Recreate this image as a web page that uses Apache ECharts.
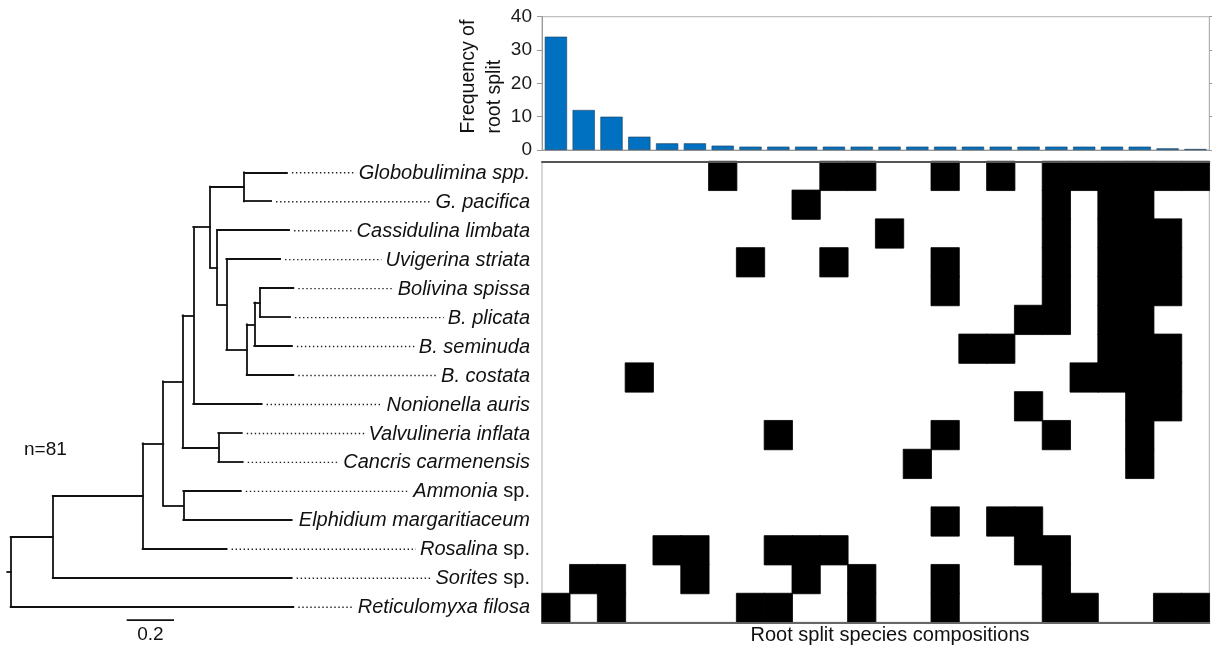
<!DOCTYPE html>
<html><head><meta charset="utf-8">
<script src="https://cdn.jsdelivr.net/npm/echarts@6/dist/echarts.min.js"></script>
<style>html,body{margin:0;padding:0;background:#fff}#c{width:1212px;height:650px}</style>
</head><body><div id="c"></div>
<script>
// ---------- data ----------
const compositions = Array.from({length: 24}, (_, i) => 'S' + (i + 1));
const rootSplitFrequency = [34, 12, 10, 4, 2, 2, 1.3, 1, 1, 1, 1, 1, 1, 1, 1, 1, 1, 1, 1, 1, 1, 1, 0.5, 0.3];
const freqTicks = [0, 10, 20, 30, 40];

// taxon labels: [italic part, upright part]
const taxa = [
  ['Globobulimina spp.', ''],
  ['G. pacifica', ''],
  ['Cassidulina limbata', ''],
  ['Uvigerina striata', ''],
  ['Bolivina spissa', ''],
  ['B. plicata', ''],
  ['B. seminuda', ''],
  ['B. costata', ''],
  ['Nonionella auris', ''],
  ['Valvulineria inflata', ''],
  ['Cancris carmenensis', ''],
  ['Ammonia', ' sp.'],
  ['Elphidium margaritiaceum', ''],
  ['Rosalina', ' sp.'],
  ['Sorites', ' sp.'],
  ['Reticulomyxa filosa', '']
];
// depth (branch-length units from root) of each tip
const tipDepth = [1.168, 1.101, 1.177, 1.139, 1.195, 1.181, 1.189, 1.195, 1.061, 0.977, 0.981, 0.973, 1.188, 0.913, 1.188, 1.195];
// internal nodes (index 16+k), children given by index, bottom-up
const nodeChildren = [[4,5],[16,6],[17,7],[3,18],[2,19],[0,1],[21,20],[22,8],[9,10],[23,24],[11,12],[25,26],[27,13],[28,14],[29,15]];
const nodeDepth = [1.054, 1.030, 0.998, 0.912, 0.873, 0.986, 0.843, 0.772, 0.878, 0.727, 0.730, 0.645, 0.558, 0.178, 0];
const rootStem = 0.0144;
const scaleBarLength = 0.2;
const sampleLabel = 'n=81';

// black cells (column indices) for each taxon row
const blackCells = [
  [6,10,11,14,16,18,19,20,21,22,23],
  [9,18,20,21],
  [12,18,20,21,22],
  [7,10,14,18,20,21,22],
  [14,18,20,21,22],
  [17,18,20,21],
  [15,16,20,21,22],
  [3,19,20,21,22],
  [17,21,22],
  [8,14,18,21],
  [13,21],
  [],
  [14,16,17],
  [4,5,8,9,10,17,18],
  [1,2,5,9,11,14,18],
  [0,2,7,8,11,14,18,19,22,23]
];

// ---------- build ----------
const FONT = 'Liberation Sans, Arial, Helvetica, sans-serif';
const heatData = [];
blackCells.forEach((cols, r) => cols.forEach(c => heatData.push([c, r, 1])));

// tree layout: tips at their row, internal nodes at mean of children
const depthOf = i => i < taxa.length ? tipDepth[i] : nodeDepth[i - taxa.length];
const yOf = taxa.map((t, i) => i);
nodeChildren.forEach(ch => yOf.push((yOf[ch[0]] + yOf[ch[1]]) / 2));
const segs = [];
nodeChildren.forEach((ch, k) => {
  const d = nodeDepth[k];
  segs.push({coords: [[d, yOf[ch[0]]], [d, yOf[ch[1]]]]});
  ch.forEach(c => segs.push({coords: [[d, yOf[c]], [depthOf(c), yOf[c]]]}));
});
const rootIdx = taxa.length + nodeChildren.length - 1;
segs.push({coords: [[-rootStem, yOf[rootIdx]], [0, yOf[rootIdx]]]});

const mctx = document.createElement('canvas').getContext('2d');
function textW(s, italic) {
  mctx.font = (italic ? 'italic ' : '') + '20px ' + FONT;
  return mctx.measureText(s).width;
}
const LABEL_RIGHT = 530;

const chart = echarts.init(document.getElementById('c'), null, {renderer: 'canvas'});
const option = {
  animation: false,
  backgroundColor: '#fff',
  textStyle: {fontFamily: FONT},
  grid: [
    {left: 542, top: 16.7, width: 667.3, height: 133.3, show: true, borderColor: '#b0b0b0', borderWidth: 1},
    {left: 542, top: 161.5, width: 667.3, height: 460.8, show: true, borderColor: '#b0b0b0', borderWidth: 1},
    {left: 0, top: 157.8, width: 541, height: 463.4}
  ],
  xAxis: [
    {type: 'category', gridIndex: 0, data: compositions, axisLine: {lineStyle: {color: '#999'}}, axisTick: {show: false}, axisLabel: {show: false}},
    {type: 'category', gridIndex: 1, data: compositions, position: 'bottom', z: 10,
      axisLine: {lineStyle: {color: '#666', width: 2}}, axisTick: {show: false}, axisLabel: {show: false}},
    {type: 'category', gridIndex: 1, data: compositions, position: 'top', z: 10,
      axisLine: {lineStyle: {color: '#555', width: 2}}, axisTick: {show: false}, axisLabel: {show: false}},
    {type: 'value', gridIndex: 2, min: -0.04524, max: 2.2423, show: false}
  ],
  yAxis: [
    {type: 'value', gridIndex: 0, min: freqTicks[0], max: freqTicks[freqTicks.length - 1], interval: 10, position: 'left',
      axisLine: {show: true, lineStyle: {color: '#999'}},
      axisTick: {show: true, length: 5, lineStyle: {color: '#999'}},
      axisLabel: {fontSize: 19, color: '#1a1a1a', margin: 10, fontFamily: FONT},
      splitLine: {show: false}},
    {type: 'value', gridIndex: 0, min: freqTicks[0], max: freqTicks[freqTicks.length - 1], interval: 10, position: 'right',
      axisLine: {show: true, lineStyle: {color: '#b0b0b0'}},
      axisTick: {show: true, length: 3, lineStyle: {color: '#999'}},
      axisLabel: {show: false}, splitLine: {show: false}},
    {type: 'category', gridIndex: 1, data: taxa.map(t => t[0] + t[1]), inverse: true, show: false},
    {type: 'value', gridIndex: 2, min: -0.5, max: 15.5, inverse: true, show: false}
  ],
  visualMap: {show: false, type: 'piecewise', seriesIndex: 1, dimension: 2,
    pieces: [{value: 0, color: '#ffffff'}, {value: 1, color: '#000000'}]},
  series: [
    {type: 'bar', xAxisIndex: 0, yAxisIndex: 0, data: rootSplitFrequency, barCategoryGap: '20%',
      itemStyle: {color: '#0070c0', borderColor: '#20405e', borderWidth: 0.6}, silent: true},
    {type: 'heatmap', xAxisIndex: 1, yAxisIndex: 2, data: heatData,
      itemStyle: {borderWidth: 0.8, borderColor: '#000'}, silent: true, emphasis: {disabled: true}},
    {type: 'lines', coordinateSystem: 'cartesian2d', xAxisIndex: 3, yAxisIndex: 3, data: segs, silent: true,
      lineStyle: {color: '#111', width: 1.8, cap: 'square', opacity: 1}},
    {type: 'custom', coordinateSystem: 'cartesian2d', xAxisIndex: 3, yAxisIndex: 3, silent: true,
      data: taxa.map((t, i) => [tipDepth[i], i]),
      renderItem: function (params, api) {
        const i = params.dataIndex;
        const p = api.coord([api.value(0), api.value(1)]);
        const t = taxa[i];
        const w = textW(t[0], true) + (t[1] ? textW(t[1], false) : 0);
        const start = LABEL_RIGHT - w;
        const children = [{
          type: 'text',
          style: {
            text: '{i|' + t[0] + '}' + (t[1] ? '{n|' + t[1] + '}' : ''),
            x: LABEL_RIGHT, y: p[1] + 1, align: 'right', verticalAlign: 'middle',
            rich: {
              i: {fontStyle: 'italic', fontSize: 20, fontFamily: FONT, fill: '#111'},
              n: {fontStyle: 'normal', fontSize: 20, fontFamily: FONT, fill: '#111'}
            }
          }
        }];
        if (start - p[0] > 16) {
          children.push({
            type: 'line',
            shape: {x1: p[0] + 5, y1: p[1] + 0.5, x2: start - 4, y2: p[1] + 0.5},
            style: {stroke: '#222', lineWidth: 1.4, lineDash: [1.4, 2.6]}
          });
        }
        return {type: 'group', children: children};
      }
    }
  ]
};
chart.setOption(option);

// annotations placed via the tree axes
const sbStart = chart.convertToPixel({gridIndex: 2}, [0.4905, 15.46]);
const sbEnd = chart.convertToPixel({gridIndex: 2}, [0.4905 + scaleBarLength, 15.46]);
chart.setOption({
  graphic: [
    {type: 'line', shape: {x1: sbStart[0], y1: sbStart[1], x2: sbEnd[0], y2: sbEnd[1]}, style: {stroke: '#111', lineWidth: 1.8}},
    {type: 'text', x: (sbStart[0] + sbEnd[0]) / 2, y: sbStart[1] + 15,
      style: {text: String(scaleBarLength), align: 'center', verticalAlign: 'middle', font: '19px ' + FONT, fill: '#111'}},
    {type: 'text', x: 24, y: 450,
      style: {text: sampleLabel, align: 'left', verticalAlign: 'middle', font: '19px ' + FONT, fill: '#111'}},
    {type: 'text', x: 482, y: 133.5, rotation: Math.PI / 2,
      style: {text: 'Frequency of\nroot split', align: 'left', verticalAlign: 'middle', lineHeight: 26, font: '19.5px ' + FONT, fill: '#111'}},
    {type: 'text', x: 890, y: 635,
      style: {text: 'Root split species compositions', align: 'center', verticalAlign: 'middle', font: '20px ' + FONT, fill: '#111'}}
  ]
});
</script>
</body></html>
